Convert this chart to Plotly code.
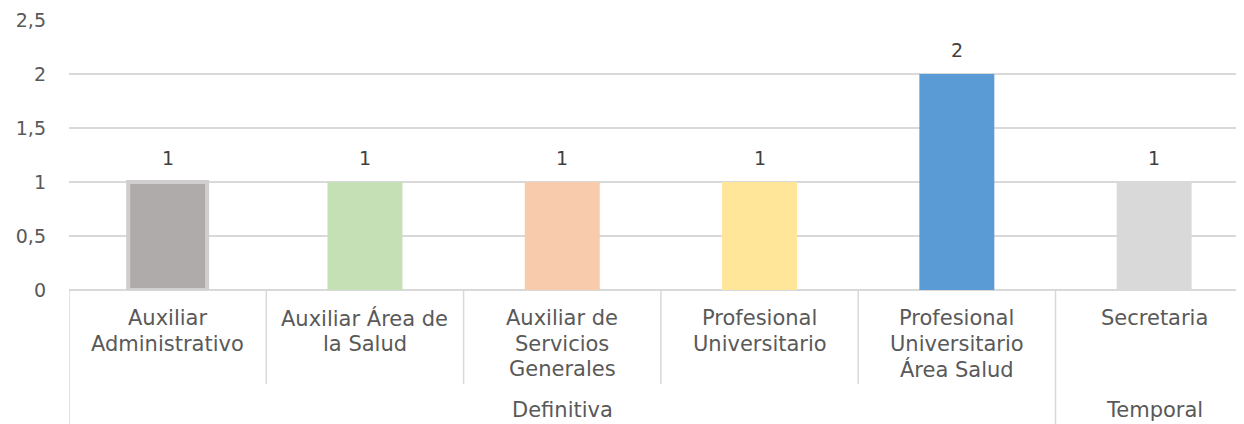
import plotly.graph_objects as go

# ---- data ----
cargos = ["Auxiliar Administrativo", "Auxiliar Área de la Salud",
          "Auxiliar de Servicios Generales", "Profesional Universitario",
          "Profesional Universitario Área Salud", "Secretaria"]
cargo_lines = [["Auxiliar", "Administrativo"],
               ["Auxiliar Área de", "la Salud"],
               ["Auxiliar de", "Servicios", "Generales"],
               ["Profesional", "Universitario"],
               ["Profesional", "Universitario", "Área Salud"],
               ["Secretaria"]]
grupos = ["Definitiva", "Definitiva", "Definitiva", "Definitiva", "Definitiva", "Temporal"]
valores = [1, 1, 1, 1, 2, 1]
colores = ["#AEABAA", "#C5E0B4", "#F8CBAD", "#FFE699", "#5B9BD5", "#D9D9D9"]
y_ticks = [0, 0.5, 1, 1.5, 2, 2.5]
y_tick_text = ["0", "0,5", "1", "1,5", "2", "2,5"]

TXT = "#595959"
GRID = "#D9D9D9"
FONT = "DejaVu Sans"
PLOT_H = 270.0

xs = list(range(len(cargos)))

fig = go.Figure()
fig.add_trace(go.Bar(
    x=xs, y=valores,
    marker=dict(color=colores,
                line=dict(color=["#D0CECE", "rgba(0,0,0,0)", "rgba(0,0,0,0)",
                                 "rgba(0,0,0,0)", "rgba(0,0,0,0)", "rgba(0,0,0,0)"],
                          width=[4, 0, 0, 0, 0, 0])),
    width=[0.4, 0.38, 0.38, 0.38, 0.38, 0.38],
    hoverinfo="skip",
))

annotations = []
# data labels
for i, v in enumerate(valores):
    annotations.append(dict(x=i, y=v, xref="x", yref="y", text=str(v),
                            showarrow=False, yanchor="middle", yshift=24,
                            font=dict(family=FONT, size=19, color="#404040")))
# category labels (one line per annotation)
line_offsets = [28, 54, 79]
for i, lines in enumerate(cargo_lines):
    for j, ln in enumerate(lines):
        annotations.append(dict(x=i, y=0, xref="x", yref="paper", text=ln,
                                showarrow=False, yanchor="middle",
                                yshift=-line_offsets[j],
                                font=dict(family=FONT, size=21, color=TXT)))
# group labels
group_names = []
for g in grupos:
    if g not in group_names:
        group_names.append(g)
for g in group_names:
    idx = [i for i, gg in enumerate(grupos) if gg == g]
    center = (idx[0] + idx[-1]) / 2
    annotations.append(dict(x=center, y=0, xref="x", yref="paper", text=g,
                            showarrow=False, yanchor="middle", yshift=-120,
                            font=dict(family=FONT, size=21, color=TXT)))

# divider lines
shapes = []
short_y = -94 / PLOT_H
full_y = -140 / PLOT_H
for k in range(len(cargos)):
    xpos = k - 0.5
    full = (k == 0) or (grupos[k] != grupos[k - 1])
    shapes.append(dict(type="line", xref="x", yref="paper", x0=xpos, x1=xpos,
                       y0=0, y1=full_y if full else short_y,
                       line=dict(color=GRID, width=1.5)))

# the page adds an 8px body margin, so the figure is sized/shifted to compensate
fig.update_layout(
    width=1236, height=416,
    margin=dict(l=61, r=0, t=12, b=134),
    paper_bgcolor="white", plot_bgcolor="white",
    showlegend=False,
    annotations=annotations,
    shapes=shapes,
    xaxis=dict(range=[-0.5, -0.5 + 1175 / 197.3], showticklabels=False,
               showgrid=False, zeroline=False, showline=False, fixedrange=True),
    yaxis=dict(range=[0, 2.5], tickvals=y_ticks, ticktext=y_tick_text,
               showgrid=True, gridcolor=GRID, gridwidth=1.5,
               zeroline=True, zerolinecolor=GRID, zerolinewidth=1.5,
               showline=False, ticks="", ticklabelstandoff=22,
               tickfont=dict(family=FONT, size=19, color=TXT), fixedrange=True),
    bargap=0.62,
)

fig.write_html("out.html")
